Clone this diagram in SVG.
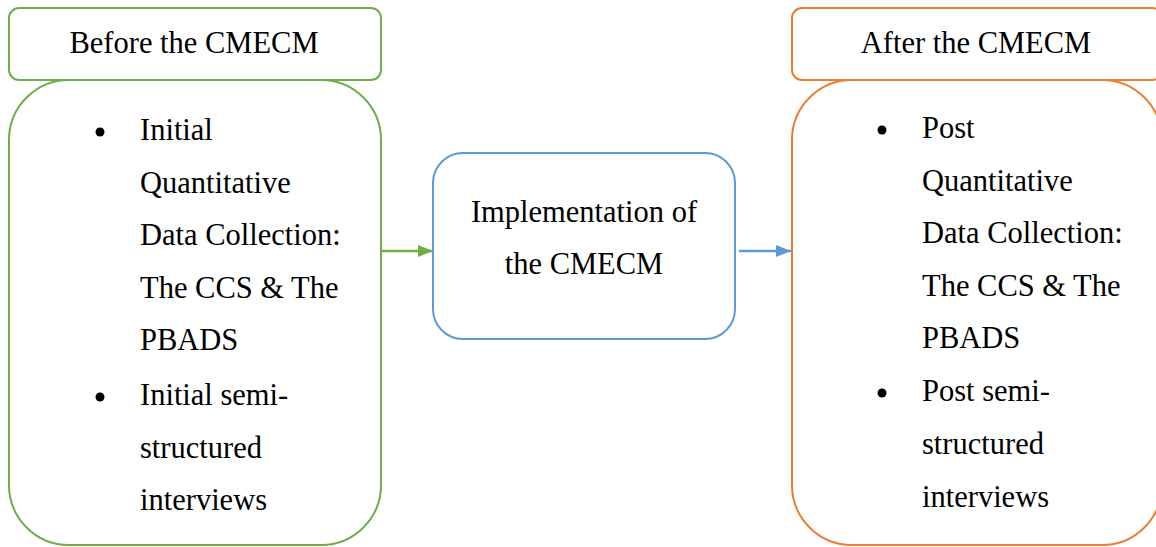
<svg xmlns="http://www.w3.org/2000/svg" width="1156" height="547" viewBox="0 0 1156 547">
  <style>
    text { font-family: "Liberation Serif", "Times New Roman", serif; font-size: 30.5px; fill: #000; }
    .mid { text-anchor: middle; }
    .box { fill: #fff; stroke-width: 2; }
    .green { stroke: #70AD47; }
    .blue { stroke: #5B9BD5; }
    .orange { stroke: #ED7D31; }
    .bullet { fill: #000; }
  </style>
  <defs>
    <marker id="arrowGreen" markerWidth="15" markerHeight="12" refX="15" refY="6" orient="auto" markerUnits="userSpaceOnUse">
      <path d="M0,0 L15,6 L0,12 Z" fill="#70AD47"/>
    </marker>
    <marker id="arrowBlue" markerWidth="15" markerHeight="12" refX="15" refY="6" orient="auto" markerUnits="userSpaceOnUse">
      <path d="M0,0 L15,6 L0,12 Z" fill="#5B9BD5"/>
    </marker>
  </defs>
  <rect width="1156" height="547" fill="#fff"/>

  <g id="before-body">
    <rect class="box green" x="9" y="80" width="372" height="465" rx="60" ry="60"/>
    <circle class="bullet" cx="100" cy="132" r="4.5"/>
    <text x="140" y="140">Initial</text>
    <text x="140" y="193">Quantitative</text>
    <text x="140" y="245">Data Collection:</text>
    <text x="140" y="298">The CCS &amp; The</text>
    <text x="140" y="350">PBADS</text>
    <circle class="bullet" cx="100" cy="397" r="4.5"/>
    <text x="140" y="405">Initial semi-</text>
    <text x="140" y="458">structured</text>
    <text x="140" y="510">interviews</text>
  </g>
  <g id="before-header">
    <rect class="box green" x="9" y="8" width="372" height="72" rx="10" ry="10"/>
    <text class="mid" x="194" y="53">Before the CMECM</text>
  </g>

  <g id="implementation">
    <rect class="box blue" x="433" y="153" width="302" height="186" rx="30" ry="30"/>
    <text class="mid" x="584" y="222">Implementation of</text>
    <text class="mid" x="584" y="274">the CMECM</text>
  </g>

  <g id="after-body">
    <rect class="box orange" x="792" y="80" width="370" height="465" rx="60" ry="60"/>
    <circle class="bullet" cx="882" cy="130" r="4.5"/>
    <text x="922" y="138">Post</text>
    <text x="922" y="191">Quantitative</text>
    <text x="922" y="243">Data Collection:</text>
    <text x="922" y="296">The CCS &amp; The</text>
    <text x="922" y="348">PBADS</text>
    <circle class="bullet" cx="882" cy="393" r="4.5"/>
    <text x="922" y="401">Post semi-</text>
    <text x="922" y="454">structured</text>
    <text x="922" y="507">interviews</text>
  </g>
  <g id="after-header">
    <rect class="box orange" x="792" y="8" width="370" height="72" rx="10" ry="10"/>
    <text class="mid" x="976" y="53">After the CMECM</text>
  </g>

  <g id="connectors">
    <line x1="381" y1="251" x2="433" y2="251" stroke="#70AD47" stroke-width="2.5" marker-end="url(#arrowGreen)"/>
    <line x1="739" y1="251" x2="791" y2="251" stroke="#5B9BD5" stroke-width="2.5" marker-end="url(#arrowBlue)"/>
  </g>
</svg>
